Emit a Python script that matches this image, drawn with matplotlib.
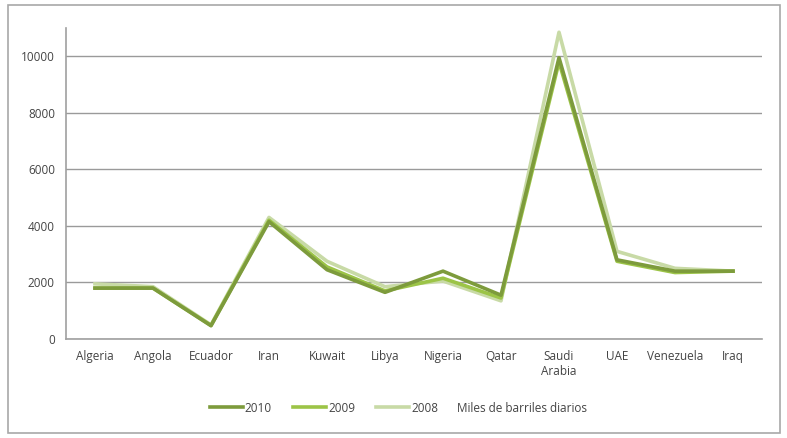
import matplotlib.pyplot as plt
import numpy as np
from matplotlib.patches import Rectangle
from matplotlib.lines import Line2D

paises = ['Algeria', 'Angola', 'Ecuador', 'Iran', 'Kuwait', 'Libya', 'Nigeria',
          'Qatar', 'Saudi\nArabia', 'UAE', 'Venezuela', 'Iraq']
v2010 = [1800, 1800, 470, 4150, 2450, 1650, 2400, 1550, 9950, 2800, 2400, 2400]
v2009 = [1800, 1800, 480, 4200, 2550, 1700, 2150, 1450, 9800, 2750, 2350, 2400]
v2008 = [1950, 1850, 500, 4300, 2750, 1850, 2050, 1350, 10850, 3100, 2500, 2400]
anios = ['2010', '2009', '2008']
colores = ['#7d9b3c', '#9cc447', '#c8daa6']
unidad = 'Miles de barriles diarios'

plt.rcParams['font.family'] = ['Open Sans', 'DejaVu Sans']

fig = plt.figure(figsize=(7.87, 4.38), dpi=100)
ax = fig.add_axes([66/787, 1-339/438, 696/787, 311/438])

x = np.arange(len(paises))
# se dibuja 2008 primero para que quede debajo
for serie, col, lab in zip([v2008, v2009, v2010], colores[::-1], anios[::-1]):
    ax.plot(x, serie, color=col, lw=2.6, label=lab)

ax.set_xlim(-0.5, len(paises) - 0.5)
ax.set_ylim(0, 11000)
ax.set_yticks(np.arange(0, 10001, 2000))
ax.set_xticks(x)
ax.set_xticklabels(paises)
ax.tick_params(axis='both', length=0, labelsize=8.5, colors='#444444', pad=8)
ax.grid(axis='y', color='#9a9a9a', lw=1)
ax.set_axisbelow(True)
for s in ['top', 'right']:
    ax.spines[s].set_visible(False)
for s in ['left', 'bottom']:
    ax.spines[s].set_color('#a0a0a0')
    ax.spines[s].set_linewidth(1.2)

handles = [Line2D([], [], color=c, lw=2.6) for c in colores]
fig.legend(handles, anios, loc='center left',
           bbox_to_anchor=(210/787, 1-408/438), ncol=3, frameon=False,
           borderpad=0, borderaxespad=0,
           fontsize=8.5, handlelength=2.8, handletextpad=0.15, columnspacing=1.8,
           labelcolor='#444444')
fig.text(457/787, 1-408/438, unidad, fontsize=8.5, color='#444444', va='center')

fig.patches.append(Rectangle((8/787, 5/438), 772/787, 428/438, transform=fig.transFigure,
                             fill=False, edgecolor='#a8a8a8', lw=1.2))

fig.savefig('out.png', dpi=100)
